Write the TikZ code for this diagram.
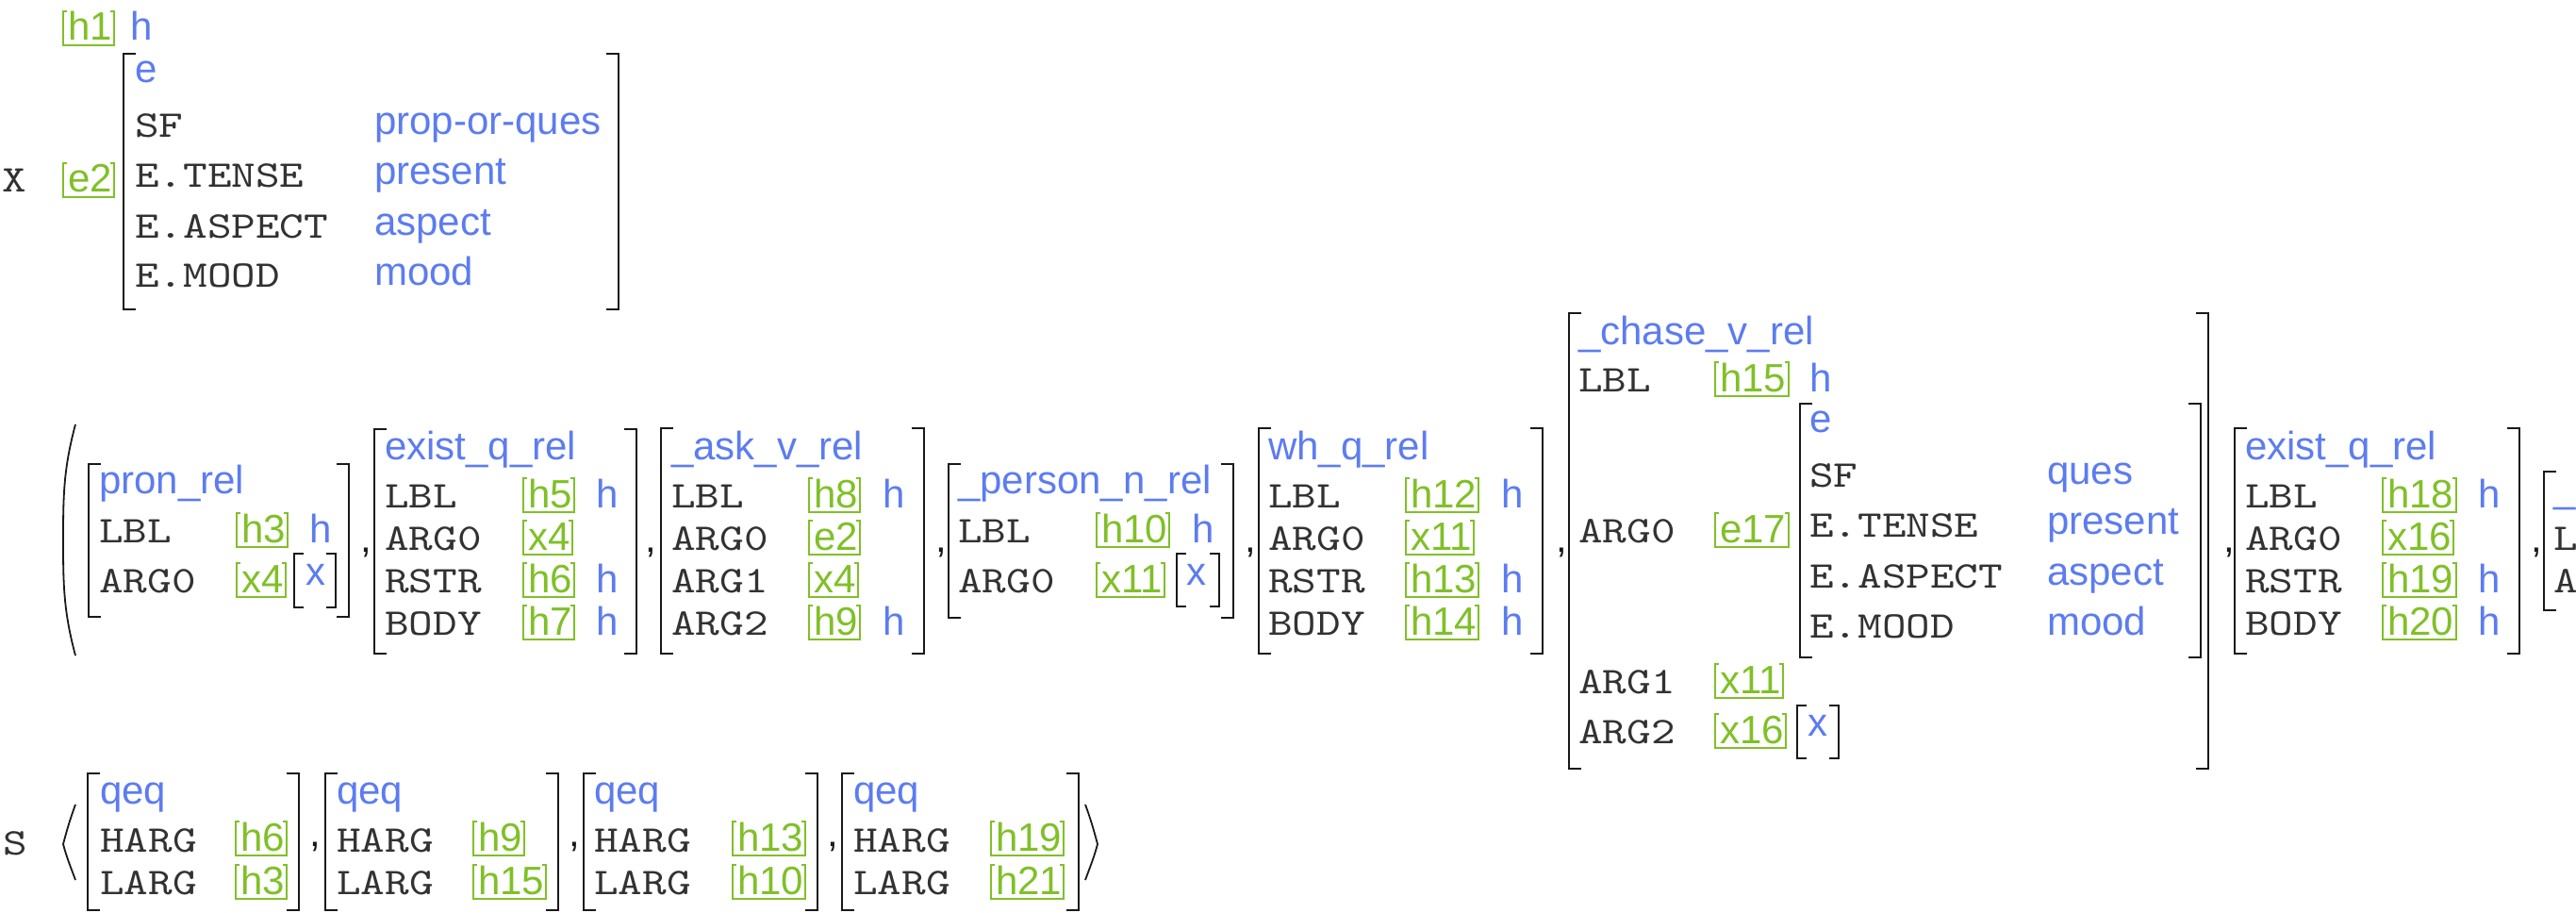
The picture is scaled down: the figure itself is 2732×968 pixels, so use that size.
\documentclass[tikz,border=0pt]{standalone}
\usepackage{fontspec}
\newfontfamily\sansf{Liberation Sans}
\newfontfamily\monof[FakeStretch=1.22]{lmmono10-regular.otf}
\definecolor{avmblue}{RGB}{92,124,240}
\definecolor{avmgreen}{RGB}{128,192,40}
\definecolor{avmtext}{RGB}{50,50,50}
\definecolor{avmline}{RGB}{25,25,25}
\newcounter{nn}
\tikzset{
 mono/.style={font=\monof\fontsize{40}{48}\selectfont, text=avmtext, inner sep=0pt, anchor=base west},
 sans/.style={font=\sansf\fontsize{42}{50}\selectfont, text=avmblue, inner sep=0pt, anchor=base west},
 tag/.style={font=\sansf\fontsize{42}{50}\selectfont, text=avmgreen, inner sep=0pt, anchor=base west},
 brk/.style={draw=avmline, line width=2.6pt},
 tagbox/.style={draw=avmgreen, line width=2pt},
 angl/.style={draw=avmline, line width=1.8pt},
 cmm/.style={font=\sansf\fontsize{42}{50}\selectfont, text=avmline, inner sep=0pt, anchor=base west},
}
\newcommand\MT[3]{\stepcounter{nn}\node[mono] (m\arabic{nn}) at (#1,#2) {#3};}
\newcommand\BT[3]{\stepcounter{nn}\node[sans] (b\arabic{nn}) at (#1,#2) {#3};}
\newcommand\CM[2]{\stepcounter{nn}\node[cmm] (c\arabic{nn}) at (#1,#2) {,};}
\newcommand\GT[3]{\stepcounter{nn}\edef\cur{g\arabic{nn}}%
 \node[tag] (\cur) at (#1+5,#2) {#3};
 \draw[tagbox] ([xshift=-1pt,yshift=31pt]\cur.base west) -- ([xshift=-5pt,yshift=31pt]\cur.base west) -- ([xshift=-5pt,yshift=-5pt]\cur.base west) -- ([xshift=2pt,yshift=-5pt]\cur.base east) -- ([xshift=2pt,yshift=31pt]\cur.base east) -- ([xshift=-2pt,yshift=31pt]\cur.base east);}
\newcommand\AVM[5]{\draw[brk] (#1+#5,#3) -- (#1,#3) -- (#1,#4) -- (#1+#5,#4);
 \draw[brk] (#2-#5,#3) -- (#2,#3) -- (#2,#4) -- (#2-#5,#4);}
\newcommand\LBR[4]{\draw[brk] (#1+#4,#2) -- (#1,#2) -- (#1,#3) -- (#1+#4,#3);}
\begin{document}
\begin{tikzpicture}[x=1pt,y=-1pt]
\useasboundingbox (0,0) rectangle (2732,968);
\clip (0,0) rectangle (2732,968);
% ---------- LTOP / INDEX ----------
\GT{67}{43}{h1} \BT{138}{43}{h}
\MT{2}{204}{X} \GT{67}{204}{e2}
\AVM{131}{656}{57}{328}{13}
\BT{143}{88}{e}
\MT{143}{146}{SF}       \BT{397}{143}{prop-or-ques}
\MT{143}{199}{E.TENSE}  \BT{397}{196}{present}
\MT{143}{253}{E.ASPECT} \BT{397}{250}{aspect}
\MT{143}{305}{E.MOOD}   \BT{397}{302}{mood}
% ---------- RELS ----------
\draw[angl] (80,450) to[out=-105,in=90] (67,573) to[out=-90,in=105] (80,695);
% pron_rel
\AVM{94}{370}{492}{654}{13}
\BT{105}{523}{pron\_rel}
\MT{105}{575}{LBL}  \GT{251}{575}{h3} \BT{328}{575}{h}
\MT{105}{628}{ARG0} \GT{251}{628}{x4}
\AVM{312}{356}{587}{644}{10} \BT{324}{620}{x}
\CM{382}{585}
% exist_q_rel
\AVM{397}{675}{455}{693}{13}
\BT{408}{487}{exist\_q\_rel}
\MT{408}{538}{LBL}  \GT{555}{538}{h5} \BT{632}{538}{h}
\MT{408}{583}{ARG0} \GT{555}{583}{x4}
\MT{408}{628}{RSTR} \GT{555}{628}{h6} \BT{632}{628}{h}
\MT{408}{673}{BODY} \GT{555}{673}{h7} \BT{632}{673}{h}
\CM{684}{585}
% _ask_v_rel
\AVM{701}{980}{454}{693}{13}
\BT{712}{487}{\_ask\_v\_rel}
\MT{712}{538}{LBL}  \GT{858}{538}{h8} \BT{936}{538}{h}
\MT{712}{583}{ARG0} \GT{858}{583}{e2}
\MT{712}{628}{ARG1} \GT{858}{628}{x4}
\MT{712}{673}{ARG2} \GT{858}{673}{h9} \BT{936}{673}{h}
\CM{992}{585}
% _person_n_rel
\AVM{1006}{1308}{492}{655}{13}
\BT{1016}{523}{\_person\_n\_rel}
\MT{1016}{575}{LBL}  \GT{1163}{575}{h10} \BT{1264}{575}{h}
\MT{1016}{628}{ARG0} \GT{1163}{628}{x11}
\AVM{1248}{1293}{587}{643}{10} \BT{1258}{620}{x}
\CM{1320}{585}
% wh_q_rel
\AVM{1335}{1636}{454}{693}{13}
\BT{1345}{487}{wh\_q\_rel}
\MT{1345}{538}{LBL}  \GT{1491}{538}{h12} \BT{1592}{538}{h}
\MT{1345}{583}{ARG0} \GT{1491}{583}{x11}
\MT{1345}{628}{RSTR} \GT{1491}{628}{h13} \BT{1592}{628}{h}
\MT{1345}{673}{BODY} \GT{1491}{673}{h14} \BT{1592}{673}{h}
\CM{1650}{585}
% _chase_v_rel
\AVM{1664}{2342}{332}{815}{13}
\BT{1674}{365}{\_chase\_v\_rel}
\MT{1674}{415}{LBL}  \GT{1819}{415}{h15} \BT{1919}{415}{h}
\MT{1674}{575}{ARG0} \GT{1819}{575}{e17}
\AVM{1909}{2334}{428}{697}{13}
\BT{1919}{458}{e}
\MT{1919}{516}{SF}       \BT{2171}{513}{ques}
\MT{1919}{569}{E.TENSE}  \BT{2171}{566}{present}
\MT{1919}{623}{E.ASPECT} \BT{2171}{620}{aspect}
\MT{1919}{676}{E.MOOD}   \BT{2171}{673}{mood}
\MT{1674}{735}{ARG1} \GT{1819}{735}{x11}
\MT{1674}{788}{ARG2} \GT{1819}{788}{x16}
\AVM{1906}{1950}{748}{804}{10} \BT{1917}{780}{x}
\CM{2358}{585}
% exist_q_rel 2
\AVM{2370}{2672}{454}{693}{13}
\BT{2381}{487}{exist\_q\_rel}
\MT{2381}{538}{LBL}  \GT{2527}{538}{h18} \BT{2628}{538}{h}
\MT{2381}{583}{ARG0} \GT{2527}{583}{x16}
\MT{2381}{628}{RSTR} \GT{2527}{628}{h19} \BT{2628}{628}{h}
\MT{2381}{673}{BODY} \GT{2527}{673}{h20} \BT{2628}{673}{h}
\CM{2684}{585}
% partial (cut at the edge)
\LBR{2698}{500}{647}{13}
\BT{2708}{532}{\_}
\MT{2708}{583}{L}
\MT{2708}{628}{A}
% ---------- HCONS ----------
\MT{3}{906}{S}
\draw[angl] (80,853) to[out=-110,in=75] (67,895) to[out=-75,in=110] (80,933);
\AVM{93}{317}{820}{965}{13}
\BT{106}{852}{qeq}
\MT{106}{903}{HARG} \GT{250}{902}{h6}
\MT{106}{948}{LARG} \GT{250}{948}{h3}
\CM{328}{897}
\AVM{345}{592}{820}{965}{13}
\BT{357}{852}{qeq}
\MT{357}{903}{HARG} \GT{502}{902}{h9}
\MT{357}{948}{LARG} \GT{502}{948}{h15}
\CM{603}{897}
\AVM{619}{867}{820}{965}{13}
\BT{630}{852}{qeq}
\MT{630}{903}{HARG} \GT{777}{902}{h13}
\MT{630}{948}{LARG} \GT{777}{948}{h10}
\CM{877}{897}
\AVM{893}{1144}{820}{965}{13}
\BT{905}{852}{qeq}
\MT{905}{903}{HARG} \GT{1051}{902}{h19}
\MT{905}{948}{LARG} \GT{1051}{948}{h21}
\draw[angl] (1151,853) to[out=-70,in=105] (1164,895) to[out=-105,in=70] (1151,933);
\end{tikzpicture}
\end{document}
